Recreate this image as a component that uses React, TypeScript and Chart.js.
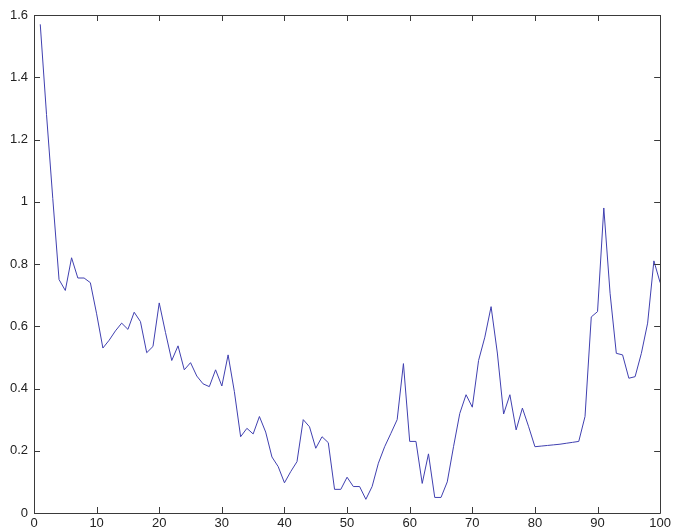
import React, { useEffect, useRef } from "react";
import { Chart, registerables } from "chart.js";

Chart.register(...registerables);

// Series values at x = 1..100
const seriesValues: number[] = [
  1.57, 1.28, 1.01, 0.75, 0.715, 0.82, 0.755, 0.755, 0.74, 0.64,
  0.53, 0.555, 0.585, 0.61, 0.59, 0.645, 0.615, 0.515, 0.535, 0.675,
  0.58, 0.49, 0.537, 0.46, 0.483, 0.44, 0.415, 0.406, 0.46, 0.408,
  0.508, 0.39, 0.245, 0.272, 0.254, 0.31, 0.26, 0.18, 0.149, 0.097,
  0.133, 0.165, 0.3, 0.277, 0.208, 0.245, 0.226, 0.076, 0.076, 0.115,
  0.085, 0.085, 0.044, 0.085, 0.16, 0.213, 0.256, 0.3, 0.48, 0.23,
  0.23, 0.095, 0.19, 0.05, 0.05, 0.1, 0.213, 0.32, 0.38, 0.34,
  0.49, 0.565, 0.663, 0.514, 0.318, 0.38, 0.267, 0.337, 0.277, 0.213,
  0.215, 0.217, 0.219, 0.221, 0.224, 0.227, 0.23, 0.31, 0.63, 0.647,
  0.98, 0.706, 0.513, 0.508, 0.433, 0.438, 0.513, 0.61, 0.81, 0.74,
];

const xTicks: number[] = [0, 10, 20, 30, 40, 50, 60, 70, 80, 90, 100];
const yTicks: number[] = [0, 0.2, 0.4, 0.6, 0.8, 1, 1.2, 1.4, 1.6];

const AXIS_COLOR = "#3a3a3a";
const LINE_COLOR = "rgb(64,64,176)";

const boxPlugin = {
  id: "matlabBox",
  afterDraw(chart: any) {
    const { ctx, chartArea, scales } = chart;
    const { left, right, top, bottom } = chartArea;
    const tl = 6;
    ctx.save();
    ctx.strokeStyle = AXIS_COLOR;
    ctx.lineWidth = 1;
    ctx.beginPath();
    ctx.rect(Math.round(left) + 0.5, Math.round(top) + 0.5, Math.round(right - left), Math.round(bottom - top));
    ctx.stroke();
    ctx.beginPath();
    for (const v of yTicks) {
      const y = Math.round(scales.y.getPixelForValue(v)) + 0.5;
      ctx.moveTo(left, y);
      ctx.lineTo(left + tl, y);
      ctx.moveTo(right, y);
      ctx.lineTo(right - tl, y);
    }
    for (const v of xTicks) {
      const x = Math.round(scales.x.getPixelForValue(v)) + 0.5;
      ctx.moveTo(x, bottom);
      ctx.lineTo(x, bottom - tl);
      ctx.moveTo(x, top);
      ctx.lineTo(x, top + tl);
    }
    ctx.stroke();
    ctx.restore();
  },
};

export default function App() {
  const canvasRef = useRef<HTMLCanvasElement | null>(null);

  useEffect(() => {
    document.body.style.margin = "0";
    const canvas = canvasRef.current;
    if (!canvas) return;
    const points = seriesValues.map((v, i) => ({ x: i + 1, y: v }));
    const chart = new Chart(canvas, {
      type: "line",
      data: {
        datasets: [
          {
            data: points,
            borderColor: LINE_COLOR,
            borderWidth: 1,
            pointRadius: 0,
            tension: 0,
            fill: false,
          },
        ],
      },
      options: {
        animation: false,
        responsive: false,
        maintainAspectRatio: false,
        layout: { padding: { top: 15, right: 11, left: 0, bottom: 0 } },
        plugins: { legend: { display: false }, tooltip: { enabled: false } },
        scales: {
          x: {
            type: "linear",
            min: 0,
            max: 100,
            afterBuildTicks: (scale: any) => {
              scale.ticks = xTicks.map((v) => ({ value: v }));
            },
            afterFit: (scale: any) => {
              scale.height = 17;
            },
            grid: { display: false, drawTicks: false },
            border: { display: false },
            ticks: {
              padding: 3,
              color: "#222",
              font: { family: "Liberation Sans", size: 13 },
              maxRotation: 0,
              autoSkip: false,
              callback: (v: any) => String(v),
            },
          },
          y: {
            type: "linear",
            min: 0,
            max: 1.6,
            afterBuildTicks: (scale: any) => {
              scale.ticks = yTicks.map((v) => ({ value: v }));
            },
            afterFit: (scale: any) => {
              scale.width = 34;
            },
            grid: { display: false, drawTicks: false },
            border: { display: false },
            ticks: {
              padding: 6,
              color: "#222",
              font: { family: "Liberation Sans", size: 13 },
              autoSkip: false,
              callback: (v: any) => String(Number(Number(v).toFixed(1))),
            },
          },
        },
      },
      plugins: [boxPlugin],
    });
    return () => chart.destroy();
  }, []);

  return (
    <div style={{ position: "fixed", left: 0, top: 0, width: 674, height: 530, background: "#fff" }}>
      <canvas ref={canvasRef} width={674} height={530} style={{ width: 674, height: 530, display: "block" }} />
    </div>
  );
}
